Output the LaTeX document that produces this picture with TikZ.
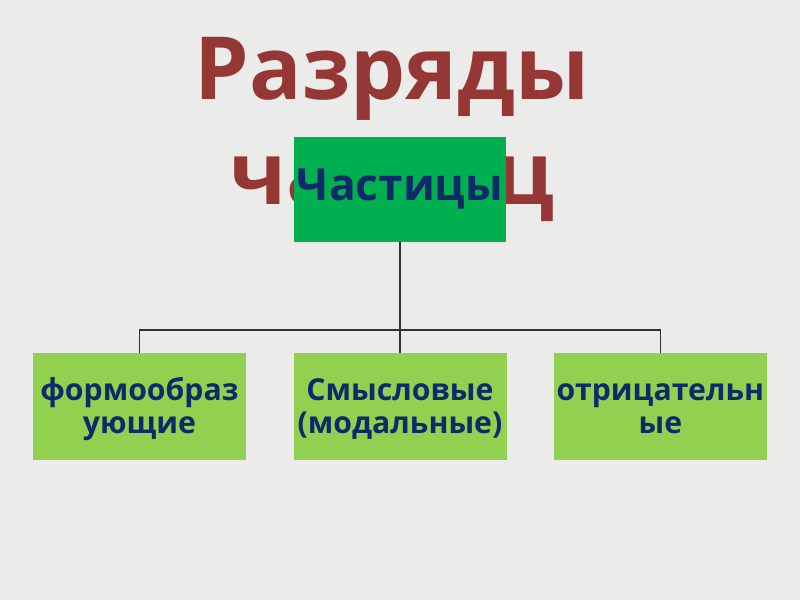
\documentclass[tikz,border=0pt]{standalone}
\usepackage{fontspec}
\setmainfont{Open Sans}
\definecolor{bgcol}{HTML}{EBEBEA}
\definecolor{titlered}{HTML}{953735}
\definecolor{topgreen}{HTML}{00B050}
\definecolor{leafgreen}{HTML}{92D050}
\definecolor{navy}{HTML}{0F2A6B}
\newcommand{\leaftext}[2]{\raisebox{-3pt}[\height][\depth]{\begin{tabular}{@{}c@{}}#1\\#2\end{tabular}}}
\begin{document}
\begin{tikzpicture}[
  topbox/.style={fill=topgreen, minimum width=5.3cm, minimum height=2.625cm, inner sep=0pt,
    text=navy, font=\fontsize{31.5}{36}\selectfont\bfseries},
  leafbox/.style={fill=leafgreen, minimum width=5.325cm, minimum height=2.675cm, inner sep=0pt,
    text=navy, font=\fontsize{21.5}{23.5}\selectfont\bfseries},
  titletext/.style={text=titlered, anchor=base, inner sep=0pt, font=\fontsize{62}{74}\selectfont\bfseries},
  link/.style={draw=black!80, line width=.8pt}]
\fill[bgcol] (0,0) rectangle (20,15);
\node[titletext] (title1) at (9.8,12.5) {Разряды};
\node[titletext] (title2) at (9.8,9.875) {частиц};
\node[topbox] (top) at (10,10.2625) {Частицы};
\node[leafbox] (form) at (3.4875,4.8375) {\leaftext{формообраз}{ующие}};
\node[leafbox] (modal) at (10,4.8375) {\leaftext{Смысловые}{(модальные)}};
\node[leafbox] (neg) at (16.51,4.8375) {\leaftext{отрицательн}{ые}};
\coordinate (bus) at (10,6.75);
\draw[link] (top.south) -- (bus);
\draw[link] (form.north) |- (bus) -| (neg.north);
\draw[link] (bus) -- (modal.north);
\end{tikzpicture}
\end{document}
